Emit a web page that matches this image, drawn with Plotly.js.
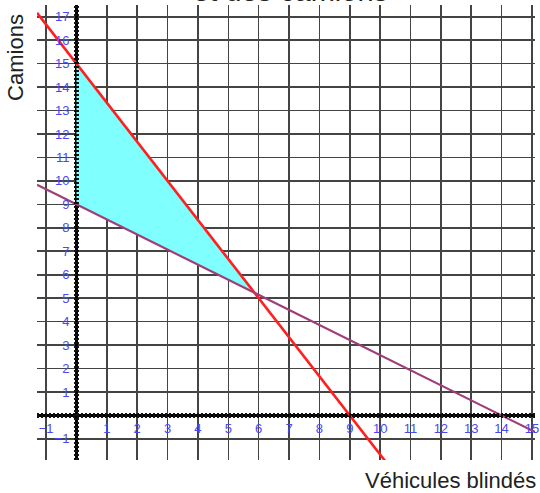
<!DOCTYPE html>
<html><head><meta charset="utf-8">
<script src="https://cdn.plot.ly/plotly-3.0.1.min.js"></script>
<style>html,body{margin:0;padding:0;background:#fff}</style>
</head><body><div id="chart" style="width:540px;height:493px"></div>
<script>
// Data
const xTickVals = [-1,1,2,3,4,5,6,7,8,9,10,11,12,13,14,15];
const yTickVals = [-1,1,2,3,4,5,6,7,8,9,10,11,12,13,14,15,16,17];
const lineNames = ['Contrainte 1', 'Contrainte 2'];
const xIntercepts = [9, 14];   // véhicules blindés where camions = 0
const yIntercepts = [15, 9];   // camions where véhicules = 0
const lineColors = ['#ff1f1f', '#9e3f78'];

const xRange = [-1.3, 15.1];
const yRange = [-1.9, 17.5];

function yAt(i, x){ return yIntercepts[i] - yIntercepts[i] * x / xIntercepts[i]; }

const traces = [];
const m0 = yIntercepts[0]/xIntercepts[0], m1 = yIntercepts[1]/xIntercepts[1];
const xi = (yIntercepts[0]-yIntercepts[1])/(m0-m1);
traces.push({
  x:[0, xi, 0, 0], y:[yIntercepts[0], yAt(0, xi), yIntercepts[1], yIntercepts[0]],
  type:'scatter', mode:'lines', fill:'toself', fillcolor:'#80ffff',
  line:{width:0}, hoverinfo:'skip', showlegend:false
});
for (let i=0;i<2;i++){
  traces.push({
    x:[xRange[0], xRange[1]], y:[yAt(i,xRange[0]), yAt(i,xRange[1])],
    type:'scatter', mode:'lines', name:lineNames[i],
    line:{color:lineColors[i], width: i===0?2.6:2.2}, showlegend:false
  });
}

const tickFont = {family:'Liberation Sans, Arial, sans-serif', size:13, color:'#4848f5'};
const layout = {
  width:540, height:493,
  margin:{l:37, r:5, t:5, b:33},
  paper_bgcolor:'#fff', plot_bgcolor:'#fff',
  showlegend:false,
  xaxis:{range:xRange, tickvals:xTickVals, ticks:'', showgrid:true, gridcolor:'#444', gridwidth:1.6,
    zeroline:true, zerolinecolor:'#000', zerolinewidth:2.5,
    anchor:'free', position:(0-yRange[0])/(yRange[1]-yRange[0]),
    tickfont:tickFont, ticklabelstandoff:4, showline:false, fixedrange:true},
  yaxis:{range:yRange, tickvals:yTickVals, ticks:'', showgrid:true, gridcolor:'#444', gridwidth:1.6,
    zeroline:true, zerolinecolor:'#000', zerolinewidth:2.5,
    anchor:'free', position:(0-xRange[0])/(xRange[1]-xRange[0]),
    tickfont:tickFont, ticklabelstandoff:7, showline:false, fixedrange:true},
  shapes:[
    {type:'line', xref:'x', yref:'paper', x0:0, x1:0, y0:0, y1:1, layer:'above',
     line:{color:'#111', width:5, dash:'2px,2px'}},
    {type:'line', xref:'paper', yref:'y', x0:0, x1:1, y0:0, y1:0, layer:'above',
     line:{color:'#111', width:5, dash:'2px,2px'}}
  ],
  annotations:[
    {text:'Camions', xref:'paper', yref:'paper', x:-0.043, y:0.885, textangle:-90,
     showarrow:false, xanchor:'center', yanchor:'middle',
     font:{family:'Liberation Sans, Arial, sans-serif', size:22, color:'#222'}},
    {text:'Véhicules blindés', xref:'paper', yref:'paper', x:1.006, y:-0.014,
     showarrow:false, xanchor:'right', yanchor:'top',
     font:{family:'Liberation Sans, Arial, sans-serif', size:22, color:'#222'}},
    {text:'et des camions', xref:'paper', yref:'paper', x:0.51, y:0.992,
     showarrow:false, xanchor:'center', yanchor:'bottom',
     font:{family:'Liberation Sans, Arial, sans-serif', size:29, color:'#222'}}
  ]
};
Plotly.newPlot('chart', traces, layout, {staticPlot:true, displayModeBar:false});
</script></body></html>
